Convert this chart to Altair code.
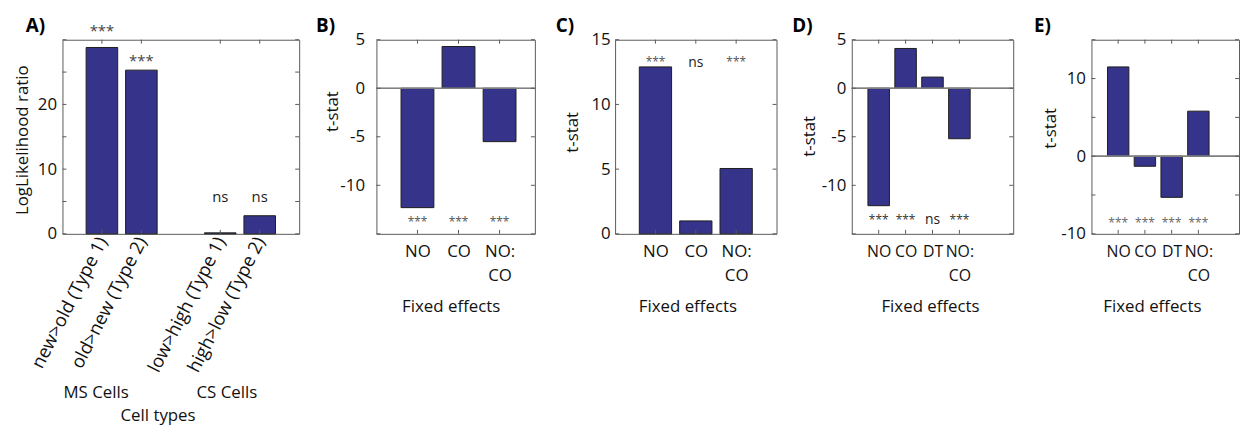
import json
import altair as alt
import pandas as pd

FONT = "Open Sans"
BAR_FILL = "#35348A"
BAR_EDGE = "#1e1e1e"
BOX = "#5a5a5a"
ZERO = "#808080"
TXT = "#111111"
FS = 17

# ---------------- data ----------------
a_cats = ["new>old (Type 1)", "old>new (Type 2)", "low>high (Type 1)", "high>low (Type 2)"]
a_pos = [1, 2, 4, 5]
a_vals = [28.8, 25.3, 0.15, 2.8]
a_sig = ["***", "***", "ns", "ns"]
a_sig_y = [31.8, 27.2, 5.5, 5.5]
a_groups = ["MS Cells", "CS Cells"]

b_cats = ["NO", "CO", "NO:CO"]
b_pos = [1, 2, 3]
b_vals = [-12.3, 4.3, -5.5]
b_sig = ["***", "***", "***"]
b_sig_y = [-13.5, -13.5, -13.5]

c_cats = ["NO", "CO", "NO:CO"]
c_pos = [1, 2, 3]
c_vals = [12.9, 1.0, 5.05]
c_sig = ["***", "ns", "***"]
c_sig_y = [13.5, 13.2, 13.5]

d_cats = ["NO", "CO", "DT", "NO:CO"]
d_pos = [1, 2, 3, 4]
d_vals = [-12.1, 4.1, 1.15, -5.2]
d_sig = ["***", "***", "ns", "***"]
d_sig_y = [-13.3, -13.3, -13.6, -13.3]

e_cats = ["NO", "CO", "DT", "NO:CO"]
e_pos = [1, 2, 3, 4]
e_vals = [11.5, -1.3, -5.3, 5.8]
e_sig = ["***", "***", "***", "***"]
e_sig_y = [-8.2, -8.2, -8.2, -8.2]

PLOT_H = 196
TOP = 29
TICK = 4


def xlabel_expr(pos, cats):
    expr = "''"
    for p, c in reversed(list(zip(pos, cats))):
        if ":" in c:
            a, b = c.split(":", 1)
            lab = "[" + json.dumps(a + ":") + ", " + json.dumps(b) + "]"
        else:
            lab = json.dumps(c)
        expr = f"datum.value == {p} ? {lab} : ({expr})"
    return expr


def panel(letter, letter_x, cats, pos, vals, sig, sig_y, xdom, width, ydom, yticks,
          ylab_show, ytitle, ytitle_x, ytitle_y, xtitle, xtitle_x, xtitle_y,
          left_gap, ylabel_pad, star_fs, star_color, ns_fs, zero_line, rotated=False,
          xfs=FS):
    df = pd.DataFrame(dict(cat=cats, pos=pos, val=vals, sig=sig, sig_y=sig_y))
    dfy = pd.DataFrame(dict(yt=yticks))
    xs = alt.Scale(domain=xdom, nice=False, zero=False)
    ys = alt.Scale(domain=ydom, nice=False, zero=False)
    if rotated:
        lab_kw = dict(labelAngle=-63, labelAlign="right", labelBaseline="middle", labelPadding=4)
    else:
        lab_kw = dict(labelAngle=0, labelAlign="center", labelBaseline="top", labelPadding=10,
                      labelLineHeight=24)
    show = json.dumps(ylab_show)
    xaxis = alt.Axis(values=pos, labelExpr=xlabel_expr(pos, cats), ticks=False, domain=False,
                     grid=False, labelFont=FONT, labelFontSize=xfs, labelColor=TXT,
                     labelOverlap=False, labelFlush=False, labelLimit=400,
                     title=xtitle, titleFont=FONT, titleFontSize=FS, titleFontWeight="normal",
                     titleColor=TXT, titleX=xtitle_x, titleY=xtitle_y, titleBaseline="middle",
                     titleAlign="center", titleAngle=0, **lab_kw)
    yaxis = alt.Axis(values=yticks,
                     labelExpr=f"indexof({show}, datum.value) >= 0 ? '' + datum.value : ''",
                     ticks=False, domain=False, grid=False, labelFont=FONT, labelFontSize=FS,
                     labelColor=TXT, labelPadding=ylabel_pad, labelOverlap=False,
                     labelFlush=False,
                     title=ytitle, titleFont=FONT, titleFontSize=FS, titleFontWeight="normal",
                     titleColor=TXT, titleX=ytitle_x, titleY=ytitle_y, titleAngle=270,
                     titleBaseline="middle", titleAlign="center")
    base = alt.Chart(df)
    layers = []
    bars = base.transform_calculate(x1="datum.pos - 0.4", x2="datum.pos + 0.4").mark_bar(
        fill=BAR_FILL, stroke=BAR_EDGE, strokeWidth=1).encode(
        x=alt.X("x1:Q", scale=xs, axis=xaxis), x2="x2:Q",
        y=alt.Y("val:Q", scale=ys, axis=yaxis), y2=alt.Y2Datum(0))
    layers.append(bars)
    if zero_line:
        layers.append(base.mark_rule(color=ZERO, strokeWidth=1).encode(
            y=alt.YDatum(0)))
    # inward box ticks (bottom, top, left, right)
    tick_style = dict(color=BOX, strokeWidth=1)
    layers.append(base.mark_rule(**tick_style).encode(
        x=alt.X("pos:Q"), y=alt.value(PLOT_H), y2=alt.value(PLOT_H - TICK)))
    layers.append(base.mark_rule(**tick_style).encode(
        x=alt.X("pos:Q"), y=alt.value(0), y2=alt.value(TICK)))
    layers.append(alt.Chart(dfy).mark_rule(**tick_style).encode(
        y=alt.Y("yt:Q"), x=alt.value(0), x2=alt.value(TICK)))
    layers.append(alt.Chart(dfy).mark_rule(**tick_style).encode(
        y=alt.Y("yt:Q"), x=alt.value(width), x2=alt.value(width - TICK)))
    stars = base.transform_filter("datum.sig == '***'").mark_text(
        font=FONT, fontSize=star_fs, color=star_color, baseline="alphabetic",
        dy=0.56 * star_fs).encode(
        x=alt.X("pos:Q"), y=alt.Y("sig_y:Q"), text="sig:N")
    ns = base.transform_filter("datum.sig == 'ns'").mark_text(
        font=FONT, fontSize=ns_fs, color="#222222", baseline="alphabetic",
        dy=0.27 * ns_fs).encode(
        x=alt.X("pos:Q"), y=alt.Y("sig_y:Q"), text="sig:N")
    layers += [stars, ns]
    one = pd.DataFrame({"t": [letter]})
    lett = alt.Chart(one).mark_text(font=FONT, fontSize=19, fontWeight="bold", align="left",
                                    baseline="alphabetic", color="#000000").encode(
        x=alt.value(letter_x), y=alt.value(-8), text="t:N")
    anchor = alt.Chart(one).mark_rule(opacity=0, strokeOpacity=0).encode(
        x=alt.value(-left_gap), x2=alt.value(-left_gap + 1), y=alt.value(-TOP),
        y2=alt.value(-TOP))
    layers += [lett, anchor]
    return layers


# Panel A
la = panel("A)", -37, a_cats, a_pos, a_vals, a_sig, a_sig_y, [0, 6], 239,
           [0, 30], [0, 5, 10, 15, 20, 25, 30], [0, 10, 20],
           "LogLikelihood ratio", -40, 101, "Cell types", 96, 183,
           54, 6, 15, "#444444", 15, False, rotated=True, xfs=18.5)
for name, px in zip(a_groups, [34, 166]):
    la.append(alt.Chart(pd.DataFrame({"g": [name]})).mark_text(
        font=FONT, fontSize=FS, color=TXT, baseline="middle", align="center").encode(
        x=alt.value(px), y=alt.value(357), text="g:N"))
A = alt.layer(*la).properties(width=239, height=PLOT_H)

lb = panel("B)", -61, b_cats, b_pos, b_vals, b_sig, b_sig_y, [0, 3.86], 160,
           [-15, 5], [-15, -10, -5, 0, 5], [-10, -5, 0, 5],
           "t-stat", -44, 72, "Fixed effects", 75, 73,
           76.2, 12, 12, "#555555", 14, True)
B = alt.layer(*lb).properties(width=160, height=PLOT_H)

lc = panel("C)", -60, c_cats, c_pos, c_vals, c_sig, c_sig_y, [0, 4], 163,
           [0, 15], [0, 5, 10, 15], [0, 5, 10, 15],
           "t-stat", -43, 93, "Fixed effects", 73, 73,
           79.5, 5, 12, "#555555", 14, False)
C = alt.layer(*lc).properties(width=163, height=PLOT_H)

ld = panel("D)", -60, d_cats, d_pos, d_vals, d_sig, d_sig_y, [0, 6], 163,
           [-15, 5], [-15, -10, -5, 0, 5], [-10, -5, 0, 5],
           "t-stat", -43, 97, "Fixed effects", 79, 73,
           73.8, 6, 12, "#333333", 14, True, xfs=16)
D = alt.layer(*ld).properties(width=163, height=PLOT_H)

le = panel("E)", -58, e_cats, e_pos, e_vals, e_sig, e_sig_y, [0, 5.52], 149,
           [-10, 15], [-10, -5, 0, 5, 10, 15], [-10, 0, 10],
           "t-stat", -41, 89, "Fixed effects", 61, 73,
           77.5, 6, 12, "#666666", 14, True, xfs=16)
E = alt.layer(*le).properties(width=149, height=PLOT_H)

chart = alt.hconcat(A, B, C, D, E, spacing=0).properties(
    padding=0, background="white"
).configure_view(stroke=BOX, strokeWidth=1).configure_concat(spacing=0)

chart.save("out.html", embed_options={"renderer": "svg", "actions": False})
